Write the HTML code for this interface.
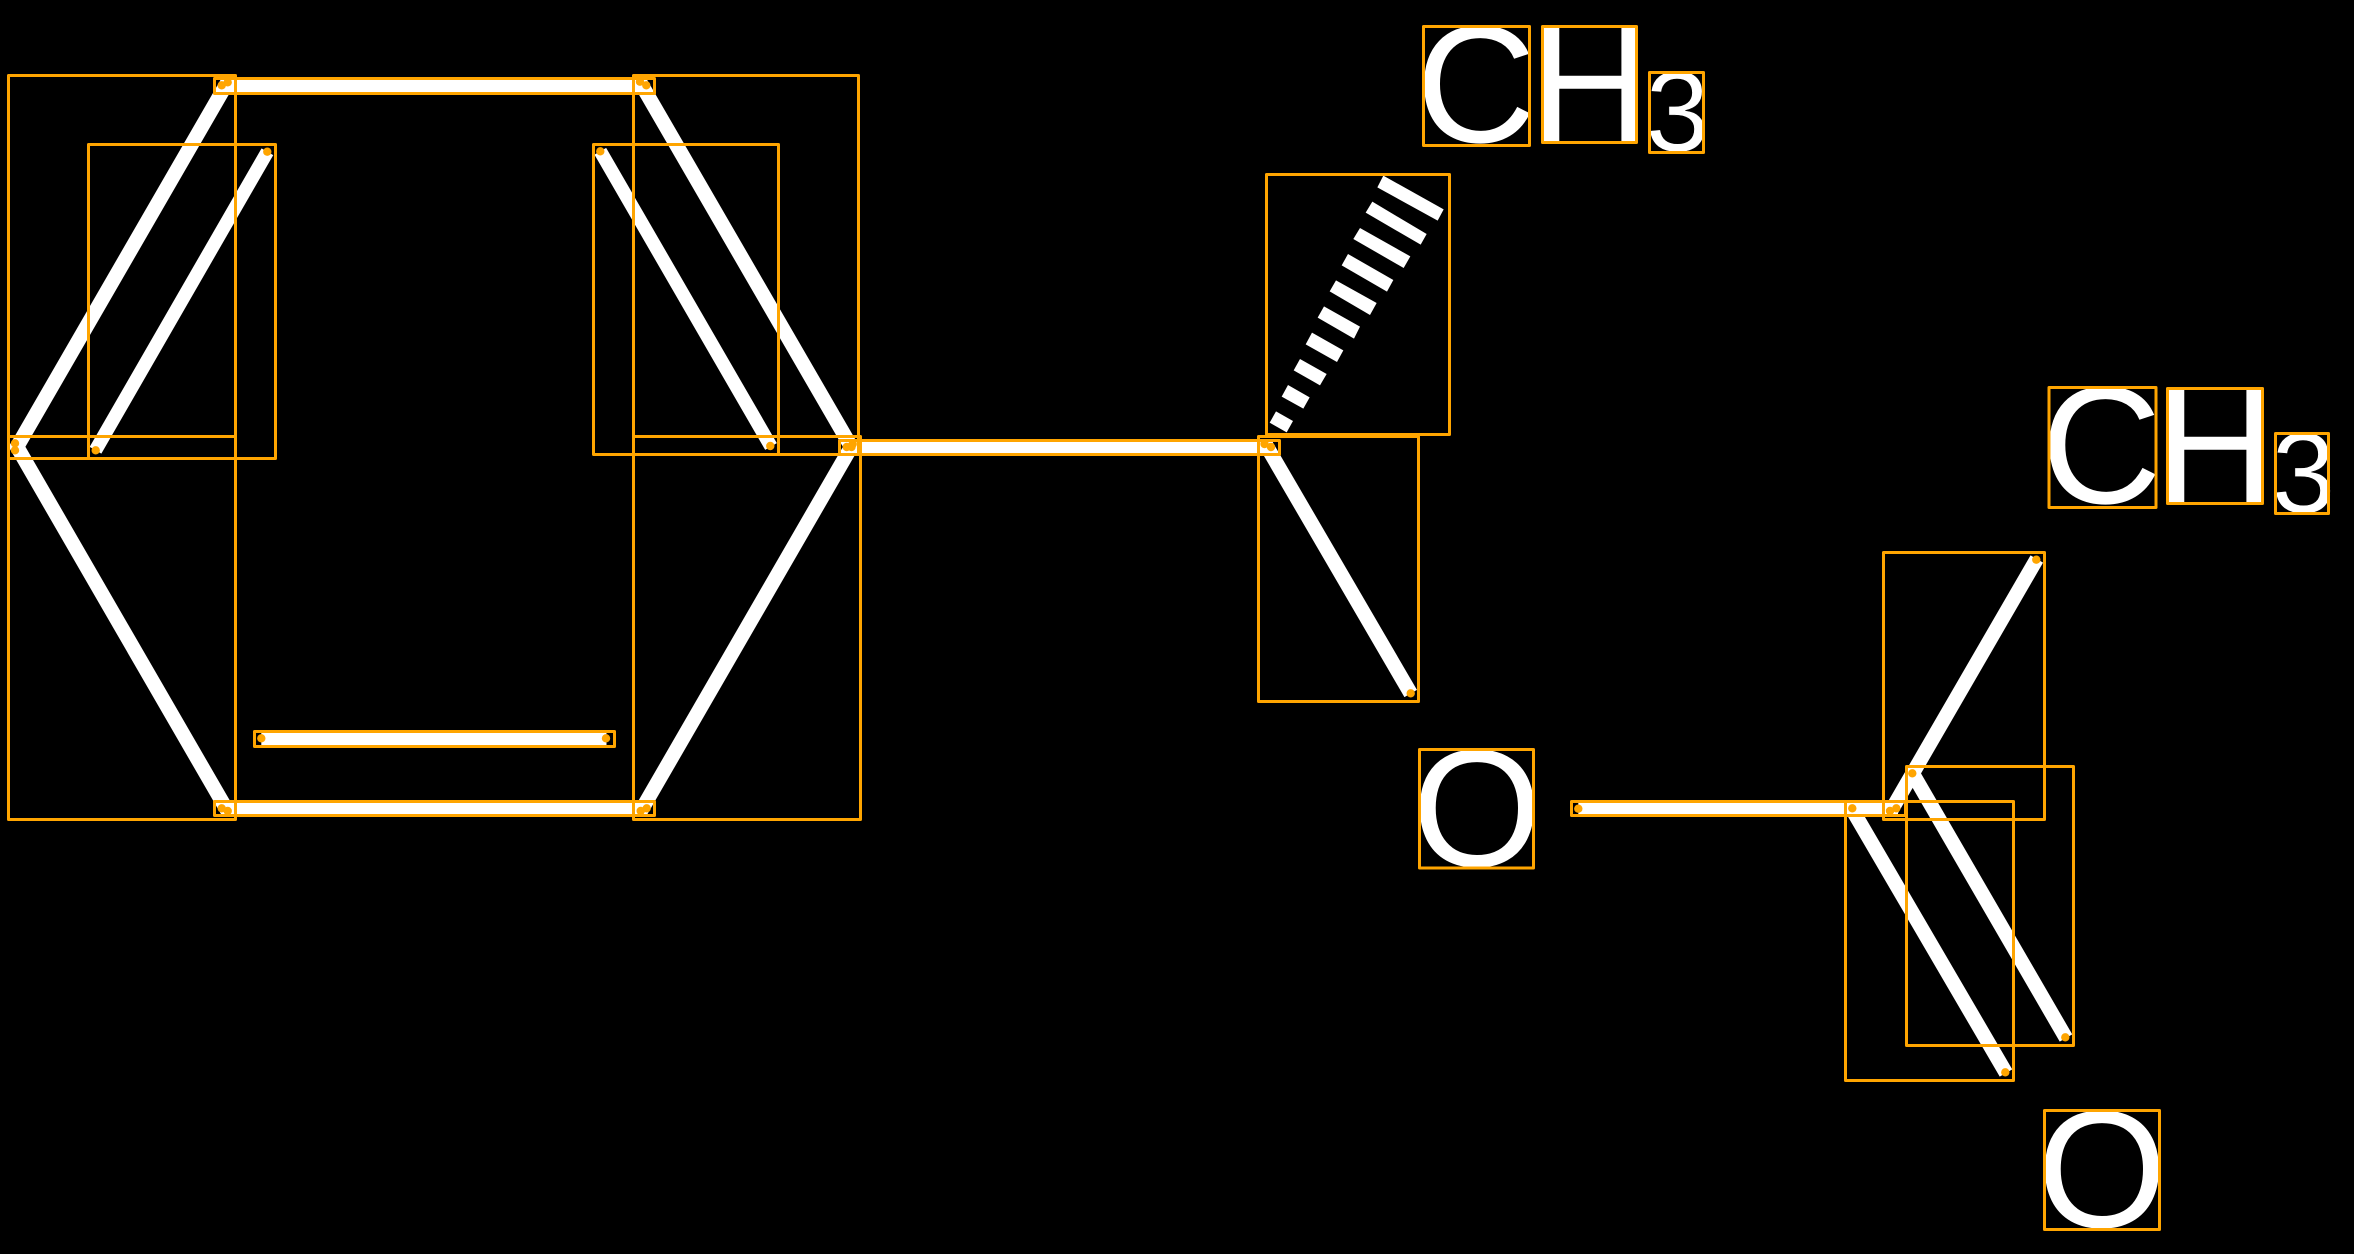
<!DOCTYPE html>
<html>
<head>
<meta charset="utf-8">
<style>
html,body{margin:0;padding:0;background:#fff;width:2355px;height:1255px;overflow:hidden}
svg{display:block}
text{font-family:"Liberation Sans",sans-serif;fill:#fff;text-rendering:geometricPrecision;stroke:#000}
</style>
</head>
<body>
<svg width="2355" height="1255" viewBox="0 0 2355 1255" xmlns="http://www.w3.org/2000/svg">
<rect x="0" y="0" width="2354" height="1254" fill="#000"/>

<!-- bonds -->
<g stroke="#fff" stroke-width="14.5" fill="none">
<line x1="227.7" y1="82" x2="15" y2="450.3"/>
<line x1="640" y1="82" x2="851.8" y2="447.8"/>
<line x1="15" y1="443.3" x2="227.7" y2="811.3"/>
<line x1="853.5" y1="443" x2="640.7" y2="811.3"/>
<line x1="1851.5" y1="808.3" x2="2006" y2="1073"/>
<line x1="1912.4" y1="773" x2="2066" y2="1038"/>
<line x1="2036.8" y1="559" x2="1890" y2="812.5"/>
<line x1="1264.8" y1="443" x2="1410.7" y2="693.5"/>
</g>
<g stroke="#fff" stroke-width="13.5" fill="none">
<line x1="267.4" y1="151.7" x2="95.5" y2="450.3"/>
<line x1="600.3" y1="151.3" x2="771" y2="446.5"/>
<line x1="221.7" y1="85.5" x2="646.5" y2="85.5"/>
<line x1="221.7" y1="808.3" x2="646.7" y2="808.3"/>
<line x1="261.3" y1="738.5" x2="606.5" y2="738.5"/>
<line x1="846.7" y1="447" x2="1272.7" y2="447"/>
<line x1="1578.3" y1="808.5" x2="1898" y2="808.5"/>
</g>

<!-- hashed wedge -->
<g fill="#fff" transform="translate(1240,0) scale(0.33333)">
<polygon points="430,527 412,562 593,662 611,628"/>
<polygon points="397,605 377,638 542,734 560,702"/>
<polygon points="360,684 340,717 491,804 511,769"/>
<polygon points="324,762 305,796 441,875 460,840"/>
<polygon points="288,841 269,874 390,945 410,909"/>
<polygon points="252,919 233,953 342,1016 360,980"/>
<polygon points="216,998 197,1033 291,1086 310,1051"/>
<polygon points="180,1077 161,1111 240,1156 260,1122"/>
<polygon points="144,1155 125,1190 190,1226 209,1192"/>
<polygon points="108,1234 89,1268 140,1297 159,1263"/>
</g>

<!-- labels -->
<g stroke-width="0">
<text x="1415.7" y="142" font-size="167">C</text>
<text x="1530" y="142" font-size="167">H</text>
<text x="2041" y="503" font-size="167">C</text>
<text x="2155" y="503" font-size="167">H</text>
<text x="1412" y="866" font-size="167">O</text>
<text x="2037" y="1227" font-size="167">O</text>
</g>
<g stroke-width="0.6">
<text x="1645.5" y="151" font-size="115">3</text>
<text x="2271.5" y="512.5" font-size="115">3</text>
</g>

<!-- boxes -->
<g fill="none" stroke="#FFA500" stroke-width="3" stroke-linejoin="round">
<rect x="8.5" y="75.5" width="227" height="383"/>
<rect x="88.5" y="144.5" width="187" height="314"/>
<rect x="214.5" y="78.5" width="440" height="15"/>
<rect x="633.5" y="75.5" width="225" height="379"/>
<rect x="593.5" y="144.5" width="185" height="310"/>
<rect x="839.5" y="440.5" width="440" height="14"/>
<rect x="1266.5" y="174.5" width="183" height="260"/>
<rect x="1258.5" y="436.5" width="160" height="265"/>
<rect x="8.5" y="436.5" width="227" height="383"/>
<rect x="214.5" y="801.5" width="440" height="14"/>
<rect x="254.5" y="731.5" width="360" height="15"/>
<rect x="633.5" y="436.5" width="227" height="383"/>
<rect x="1571.5" y="801.5" width="334" height="14"/>
<rect x="1883.5" y="552.5" width="161" height="267"/>
<rect x="1906.5" y="766.5" width="167" height="279"/>
<rect x="1845.5" y="801.5" width="168" height="279"/>
<rect x="1423.5" y="26.5" width="106" height="119"/>
<rect x="1542.5" y="26.5" width="94" height="116"/>
<rect x="1649.5" y="72.5" width="54" height="80"/>
<rect x="2049" y="387.5" width="107" height="120"/>
<rect x="2167.5" y="388.5" width="95" height="115"/>
<rect x="2275.5" y="433.5" width="53" height="80"/>
<rect x="1419.5" y="749.5" width="114" height="118.5"/>
<rect x="2044.5" y="1110.5" width="115" height="119"/>
</g>

<!-- anchor dots -->
<g fill="#FFA500">
<circle cx="221.7" cy="85.3" r="4.2"/>
<circle cx="227.7" cy="82.3" r="4.2"/>
<circle cx="267.3" cy="151.7" r="4.2"/>
<circle cx="640" cy="81.7" r="4.2"/>
<circle cx="646.3" cy="85.3" r="4.2"/>
<circle cx="600.3" cy="151.3" r="4.2"/>
<circle cx="15" cy="443.3" r="4.2"/>
<circle cx="15" cy="450.3" r="4.2"/>
<circle cx="95.7" cy="450.3" r="4.2"/>
<circle cx="770.3" cy="446" r="4.2"/>
<circle cx="846.7" cy="447" r="4.2"/>
<circle cx="852.7" cy="444" r="4.2"/>
<circle cx="851.5" cy="447" r="4.2"/>
<circle cx="221.7" cy="808.3" r="4.2"/>
<circle cx="227.7" cy="811" r="4.2"/>
<circle cx="646.7" cy="808.3" r="4.2"/>
<circle cx="640.7" cy="811" r="4.2"/>
<circle cx="261.3" cy="738.3" r="4.2"/>
<circle cx="606" cy="738.3" r="4.2"/>
<circle cx="1264.5" cy="444" r="4.2"/>
<circle cx="1271" cy="447" r="4.2"/>
<circle cx="1410.7" cy="693.3" r="4.2"/>
<circle cx="1578.3" cy="808.7" r="4.2"/>
<circle cx="1852.3" cy="808.3" r="4.2"/>
<circle cx="1890" cy="811" r="4.2"/>
<circle cx="1896.3" cy="808.3" r="4.2"/>
<circle cx="1912.3" cy="773.3" r="4.2"/>
<circle cx="2036.3" cy="559.7" r="4.2"/>
<circle cx="2065.3" cy="1037.3" r="4.2"/>
<circle cx="2005.3" cy="1072.3" r="4.2"/>
</g>
</svg>
</body>
</html>
